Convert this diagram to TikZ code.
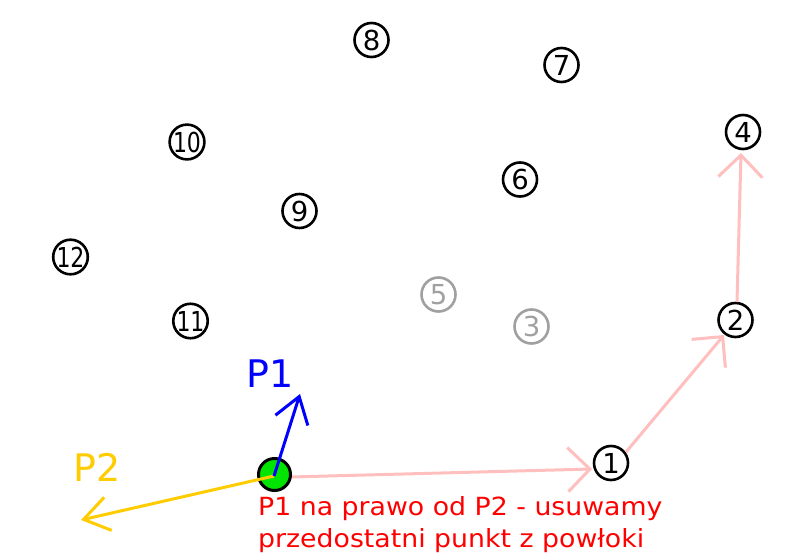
\documentclass[tikz,border=0pt]{standalone}
\usepackage{fontspec}
\setmainfont{DejaVu Sans}
\newfontfamily\widefont[FakeStretch=1.07]{DejaVu Sans}
\usetikzlibrary{arrows.meta}
\definecolor{pinkc}{HTML}{FFBFBF}
\definecolor{yel}{HTML}{FFCC00}
\definecolor{graynum}{HTML}{A0A0A0}
\begin{document}
\begin{tikzpicture}[x=1pt,y=-1pt,
  num/.style={circle,draw=black,line width=2.6pt,minimum size=34pt,inner sep=0pt,font=\fontsize{27.5}{27.5}\selectfont},
  gnum/.style={num,draw=graynum,text=graynum},
  hull/.style={draw=pinkc,line width=3pt,-{Straight Barb[length=22pt,width=44pt,line width=3pt]}},
  vec/.style={line width=3pt,-{Straight Barb[length=25pt,width=34pt,line width=3pt]}},
  lbl/.style={font=\fontsize{38}{38}\selectfont,inner sep=0pt}]
\useasboundingbox (0,0) rectangle (794,559);
\newcommand\twodig[1]{\scalebox{0.8}[1]{#1}}
\node[num] (n1) at (611,463) {1};
\node[num] (n2) at (735.5,320) {2};
\node[gnum] (n3) at (531.5,326.5) {3};
\node[num] (n4) at (743,132) {4};
\node[gnum] (n5) at (438.5,294.5) {5};
\node[num] (n6) at (520,179.5) {6};
\node[num] (n7) at (561.5,65) {7};
\node[num] (n8) at (371.5,40) {8};
\node[num] (n9) at (299.5,211) {9};
\node[num] (n10) at (187,142) {\twodig{10}};
\node[num] (n11) at (190.5,321) {\twodig{11}};
\node[num] (n12) at (70.5,257) {\twodig{12}};
\coordinate (c) at (274,476);
\coordinate (p1) at (300,394);
\coordinate (p2) at (81,520);
\draw[hull] (290,477) coordinate (cs) -- (592,469) coordinate (e1);
\draw[hull] (626,452) coordinate (s2) -- (724,335) coordinate (e2);
\draw[hull] (737,302) coordinate (s3) -- (741,153) coordinate (e3);
\node[circle,draw=black,fill=green!90!black,line width=3pt,minimum size=32pt,inner sep=0pt] (g) at (274.5,474.5) {};
\draw[vec,draw=yel] (c) -- (p2);
\draw[vec,draw=blue] (c) -- (p1);
\node[lbl,text=blue] (L1) at (270,374) {P1};
\node[lbl,text=yel] (L2) at (97,467) {P2};
\node[anchor=north west,align=left,text=red,inner sep=0pt,font=\widefont\fontsize{25}{32}\selectfont] (t) at (258,496) {P1 na prawo od P2 - usuwamy\\przedostatni punkt z powłoki};
\end{tikzpicture}
\end{document}
